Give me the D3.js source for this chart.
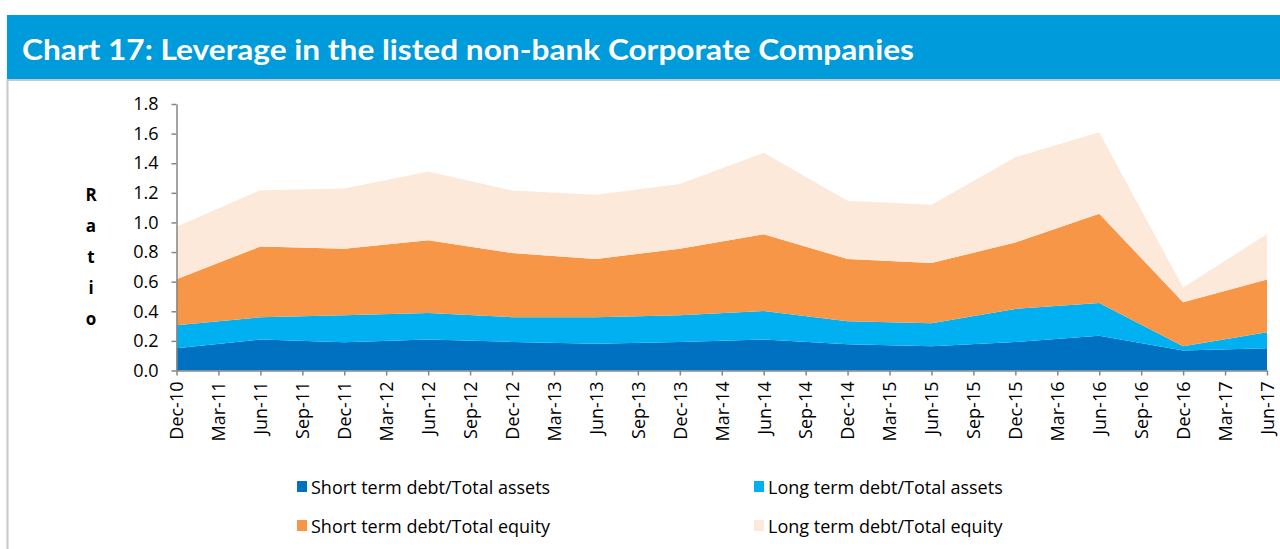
<!DOCTYPE html>
<html>
<head>
<meta charset="utf-8">
<script src="https://cdn.jsdelivr.net/npm/d3@7"></script>
<style>
	body { margin: 0; background: #fff; }
	svg { display: block; }
	.axis path, .axis line { stroke: #868686; stroke-width: 1.5; }
	.axis text { font-family: 'Open Sans', sans-serif; font-size: 18px; fill: #000; }
	.legend text { font-family: 'Open Sans', sans-serif; font-size: 18px; fill: #000; }
</style>
</head>
<body>
<div id="graphic"></div>
<script>

// quarterly axis labels
var quarters = ['Dec-10','Mar-11','Jun-11','Sep-11','Dec-11','Mar-12','Jun-12','Sep-12',
	'Dec-12','Mar-13','Jun-13','Sep-13','Dec-13','Mar-14','Jun-14','Sep-14','Dec-14',
	'Mar-15','Jun-15','Sep-15','Dec-15','Mar-16','Jun-16','Sep-16','Dec-16','Mar-17','Jun-17'];

// half-yearly observations
var periods = ['Dec-10','Jun-11','Dec-11','Jun-12','Dec-12','Jun-13','Dec-13',
	'Jun-14','Dec-14','Jun-15','Dec-15','Jun-16','Dec-16','Jun-17'];

var stDebtAssets  = [0.150, 0.209, 0.191, 0.209, 0.193, 0.180, 0.193, 0.209, 0.178, 0.164, 0.193, 0.234, 0.135, 0.150];
var ltDebtAssets  = [0.155, 0.151, 0.182, 0.180, 0.167, 0.180, 0.180, 0.193, 0.155, 0.155, 0.223, 0.222, 0.029, 0.108];
var stDebtEquity  = [0.311, 0.478, 0.450, 0.490, 0.433, 0.393, 0.450, 0.519, 0.420, 0.407, 0.449, 0.603, 0.297, 0.356];
var ltDebtEquity  = [0.355, 0.380, 0.406, 0.465, 0.423, 0.434, 0.436, 0.549, 0.393, 0.393, 0.576, 0.550, 0.099, 0.308];

var seriesNames = ['Short term debt/Total assets','Long term debt/Total assets',
	'Short term debt/Total equity','Long term debt/Total equity'];
var seriesColors = ['#0070C0','#00B0F0','#F79646','#FDE9D9'];

var yTicks = [0, 0.2, 0.4, 0.6, 0.8, 1.0, 1.2, 1.4, 1.6, 1.8];

var width = 1280, height = 549;

var rows = periods.map(function(p, i) {
	return {
		period: p,
		s0: stDebtAssets[i],
		s1: ltDebtAssets[i],
		s2: stDebtEquity[i],
		s3: ltDebtEquity[i]
	};
});

var svg = d3.select('#graphic').append('svg')
	.attr('width', width)
	.attr('height', height);

// header bar
svg.append('rect')
	.attr('x', 7).attr('y', 15)
	.attr('width', width - 7).attr('height', 64)
	.attr('fill', '#009BDB');
svg.append('line')
	.attr('x1', 7).attr('x2', width)
	.attr('y1', 80).attr('y2', 80)
	.attr('stroke', '#c8c8c8').attr('stroke-width', 2);
svg.append('line')
	.attr('x1', 7.5).attr('x2', 7.5)
	.attr('y1', 79).attr('y2', height)
	.attr('stroke', '#c8c8c8').attr('stroke-width', 2);

svg.append('text')
	.attr('x', 22).attr('y', 48)
	.attr('dominant-baseline', 'central')
	.attr('textLength', 892)
	.attr('lengthAdjust', 'spacingAndGlyphs')
	.style('font-family', 'Lato, sans-serif')
	.style('font-weight', 'bold')
	.style('font-size', '29px')
	.attr('fill', '#fff')
	.text('Chart 17: Leverage in the listed non-bank Corporate Companies');

// scales
var x = d3.scalePoint()
	.domain(quarters)
	.range([176.5, 1267]);

var y = d3.scaleLinear()
	.domain([0, 1.8])
	.range([370.5, 104]);

var stack = d3.stack().keys(['s0','s1','s2','s3']);
var layers = stack(rows);

var area = d3.area()
	.x(function(d) { return x(d.data.period); })
	.y0(function(d) { return y(d[0]); })
	.y1(function(d) { return y(d[1]); });

svg.append('g').attr('class', 'areas')
	.selectAll('path')
	.data(layers).enter()
	.append('path')
	.attr('d', area)
	.attr('fill', function(d, i) { return seriesColors[i]; });

// axes
svg.append('g')
	.attr('class', 'axis axis-y')
	.attr('transform', 'translate(' + x.range()[0] + ',0)')
	.call(d3.axisLeft(y)
		.tickValues(yTicks)
		.tickFormat(d3.format('.1f'))
		.tickSizeInner(5)
		.tickSizeOuter(0)
		.tickPadding(13));

var xAxis = svg.append('g')
	.attr('class', 'axis axis-x')
	.attr('transform', 'translate(0,' + y(0) + ')')
	.call(d3.axisBottom(x)
		.tickSizeInner(5)
		.tickSizeOuter(0)
		.tickPadding(8));

xAxis.selectAll('text')
	.attr('transform', 'rotate(-90)')
	.attr('text-anchor', 'end')
	.attr('x', -11)
	.attr('y', 0)
	.attr('dy', '0.35em');

// y label, one letter per line
svg.append('g')
	.selectAll('text')
	.data('Ratio'.split(''))
	.enter().append('text')
	.attr('x', 91)
	.attr('y', function(d, i) { return 194 + i * 31; })
	.attr('text-anchor', 'middle')
	.attr('dominant-baseline', 'central')
	.style('font-family', 'Open Sans, sans-serif')
	.style('font-weight', 'bold')
	.style('font-size', '17px')
	.text(function(d) { return d; });

// legend
var legendPos = [[297, 487], [754, 487], [297, 526], [754, 526]];

var legend = svg.append('g').attr('class', 'legend')
	.selectAll('g')
	.data(seriesNames).enter()
	.append('g')
	.attr('transform', function(d, i) {
		return 'translate(' + legendPos[i][0] + ',' + legendPos[i][1] + ')';
	});

legend.append('rect')
	.attr('x', 0).attr('y', -6)
	.attr('width', 10).attr('height', 11)
	.attr('fill', function(d, i) { return seriesColors[i]; });

legend.append('text')
	.attr('x', 14)
	.attr('dominant-baseline', 'central')
	.text(function(d) { return d; });

</script>
</body>
</html>
